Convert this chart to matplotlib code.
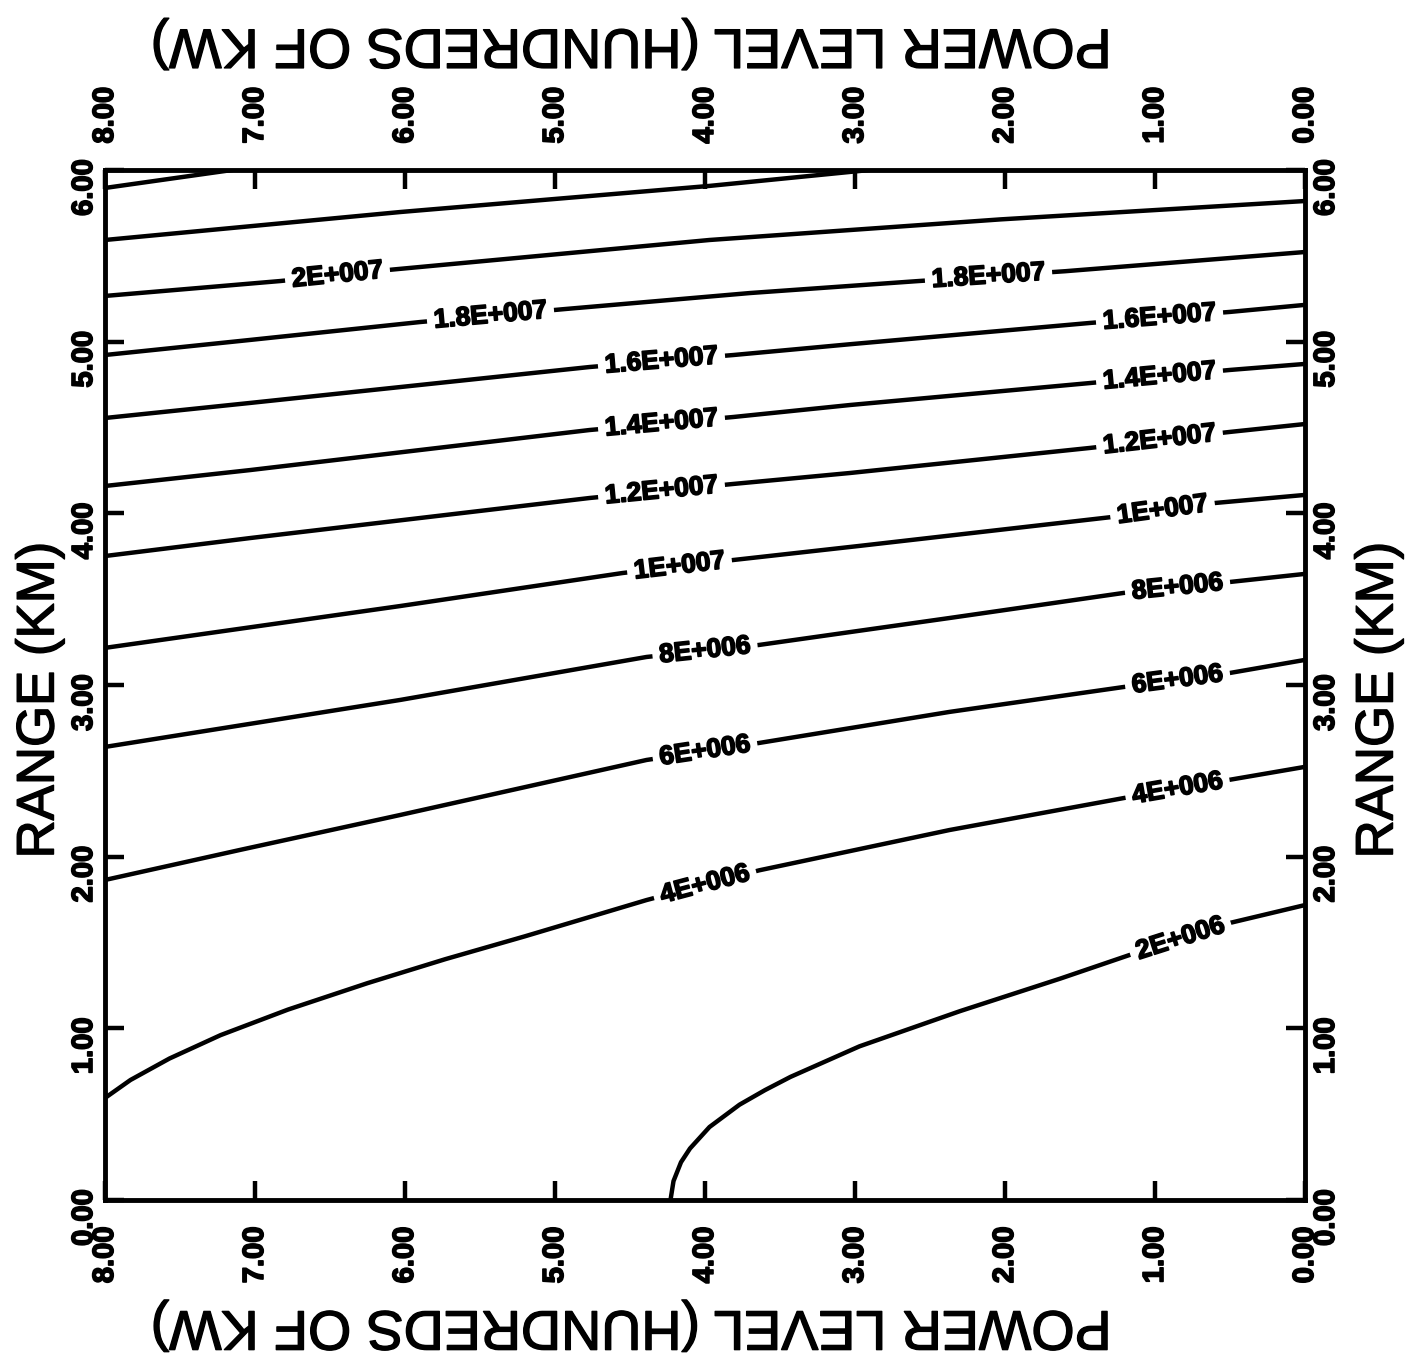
import numpy as np
import matplotlib
matplotlib.use("Agg")
import matplotlib.pyplot as plt
import matplotlib.patheffects as pe

# power level (hundreds of kW) vs range (km) contour traces
levels = ["T1", "T2", "2E+007", "1.8E+007", "1.6E+007", "1.4E+007", "1.2E+007",
          "1E+007", "8E+006", "6E+006", "4E+006", "2E+006"]

power = {
    "T1": [8.0, 7.15],
    "T2": [8.0, 6.03, 3.97, 2.9],
    "2E+007": [8.0, 6.83, 6.08, 3.97, 2.03, 0.0],
    "1.8E+007": [8.0, 7.03, 5.9, 4.93, 3.7, 2.59, 1.6, 0.0],
    "1.6E+007": [8.0, 7.03, 4.77, 3.81, 3.03, 1.43, 0.5, 0.0],
    "1.4E+007": [8.0, 7.03, 4.77, 3.81, 3.03, 1.43, 0.5, 0.0],
    "1.2E+007": [8.0, 7.03, 4.77, 3.81, 3.03, 1.43, 0.5, 0.0],
    "1E+007": [8.0, 6.03, 4.55, 3.81, 2.97, 1.28, 0.6, 0.0],
    "8E+006": [8.0, 6.03, 4.39, 3.64, 2.37, 1.21, 0.5, 0.0],
    "6E+006": [8.0, 7.1, 6.03, 4.39, 3.64, 2.37, 1.21, 0.5, 0.0],
    "4E+006": [8.0, 7.83, 7.57, 7.23, 6.78, 6.25, 5.73, 5.2, 4.39, 3.64, 2.37, 1.21, 0.5, 0.0],
    "2E+006": [4.23, 4.21, 4.16, 4.1, 3.97, 3.77, 3.6, 3.43, 2.97, 2.3, 1.63, 1.17, 0.5, 0.0],
}

range_km = {
    "T1": [5.895, 6.0],
    "T2": [5.592, 5.755, 5.907, 6.0],
    "2E+007": [5.266, 5.353, 5.420, 5.592, 5.712, 5.819],
    "1.8E+007": [4.922, 5.010, 5.114, 5.190, 5.283, 5.352, 5.410, 5.522],
    "1.6E+007": [4.555, 4.643, 4.852, 4.922, 4.985, 5.109, 5.173, 5.214],
    "1.4E+007": [4.159, 4.252, 4.485, 4.561, 4.631, 4.759, 4.835, 4.870],
    "1.2E+007": [3.751, 3.856, 4.089, 4.171, 4.235, 4.381, 4.474, 4.520],
    "1E+007": [3.216, 3.460, 3.652, 3.728, 3.810, 3.979, 4.060, 4.107],
    "8E+006": [2.639, 2.913, 3.163, 3.233, 3.390, 3.536, 3.600, 3.647],
    "6E+006": [1.864, 2.039, 2.243, 2.563, 2.662, 2.843, 2.988, 3.070, 3.146],
    "4E+006": [0.594, 0.699, 0.824, 0.960, 1.109, 1.263, 1.403, 1.536, 1.747, 1.920,
               2.155, 2.341, 2.448, 2.523],
    "2E+006": [0.0, 0.110, 0.220, 0.300, 0.425, 0.555, 0.640, 0.717, 0.895, 1.100,
               1.290, 1.427, 1.614, 1.718],
}

# inline label positions along each trace (power level)
label_at = {
    "2E+007": [6.45],
    "1.8E+007": [5.43, 2.11],
    "1.6E+007": [4.29, 0.97],
    "1.4E+007": [4.29, 0.97],
    "1.2E+007": [4.29, 0.97],
    "1E+007": [4.17, 0.95],
    "8E+006": [4.0, 0.85],
    "6E+006": [4.0, 0.85],
    "4E+006": [4.0, 0.85],
    "2E+006": [0.83],
}

xticks = [0, 1, 2, 3, 4, 5, 6, 7, 8]
yticks = [0, 1, 2, 3, 4, 5, 6]

heavy = [pe.withStroke(linewidth=1.2, foreground="black")]

fig = plt.figure(figsize=(14.11, 13.65), dpi=100)
ax = fig.add_axes([0.0744, 0.1209, 0.8505, 0.7546])
ax.set_xlim(8, 0)
ax.set_ylim(0, 6)

for name in levels:
    ax.plot(power[name], range_km[name], color="black", lw=3.2,
            solid_capstyle="round", solid_joinstyle="round", zorder=2)

for name, xs in label_at.items():
    px = np.array(power[name])[::-1]
    py = np.array(range_km[name])[::-1]
    for x in xs:
        y = np.interp(x, px, py)
        a = ax.transData.transform((x + 0.3, np.interp(x + 0.3, px, py)))
        b = ax.transData.transform((x - 0.3, np.interp(x - 0.3, px, py)))
        ang = np.degrees(np.arctan2(b[1] - a[1], b[0] - a[0]))
        ax.text(x, y, name, rotation=ang, rotation_mode="anchor",
                ha="center", va="center", fontsize=19, fontweight="bold",
                family="Liberation Sans", zorder=3, path_effects=heavy,
                bbox=dict(facecolor="white", edgecolor="none", pad=5))

ax.set_xticks(xticks)
ax.set_yticks(yticks)
ax.set_xticklabels(["%.2f" % v for v in xticks])
ax.set_yticklabels(["%.2f" % v for v in yticks])

for side in ax.spines.values():
    side.set_linewidth(3.5)

ax.tick_params(axis="both", direction="in", length=14, width=3.2,
               top=True, right=True, labeltop=True, labelright=True,
               labelrotation=90, labelsize=21)
ax.tick_params(axis="x", which="both", pad=19)
ax.tick_params(axis="y", which="both", pad=5)
for t in ax.xaxis.get_major_ticks() + ax.yaxis.get_major_ticks():
    for lab in (t.label1, t.label2):
        lab.set_fontweight("bold")
        lab.set_family("Liberation Sans")
        lab.set_path_effects(heavy)

title_kw = dict(fontsize=40, family="Liberation Sans", color="black",
                path_effects=[pe.withStroke(linewidth=1.0, foreground="black")])
fig.text(0.448, 0.968, "POWER LEVEL (HUNDREDS OF KW)", rotation=180,
         ha="center", va="center", **title_kw)
fig.text(0.448, 0.029, "POWER LEVEL (HUNDREDS OF KW)", rotation=180,
         ha="center", va="center", **title_kw)
fig.text(0.028, 0.487, "RANGE (KM)", rotation=90, ha="center", va="center",
         **dict(title_kw, fontsize=38))
fig.text(0.977, 0.487, "RANGE (KM)", rotation=90, ha="center", va="center",
         **dict(title_kw, fontsize=38))

fig.savefig("out.png", dpi=100, facecolor="white")
